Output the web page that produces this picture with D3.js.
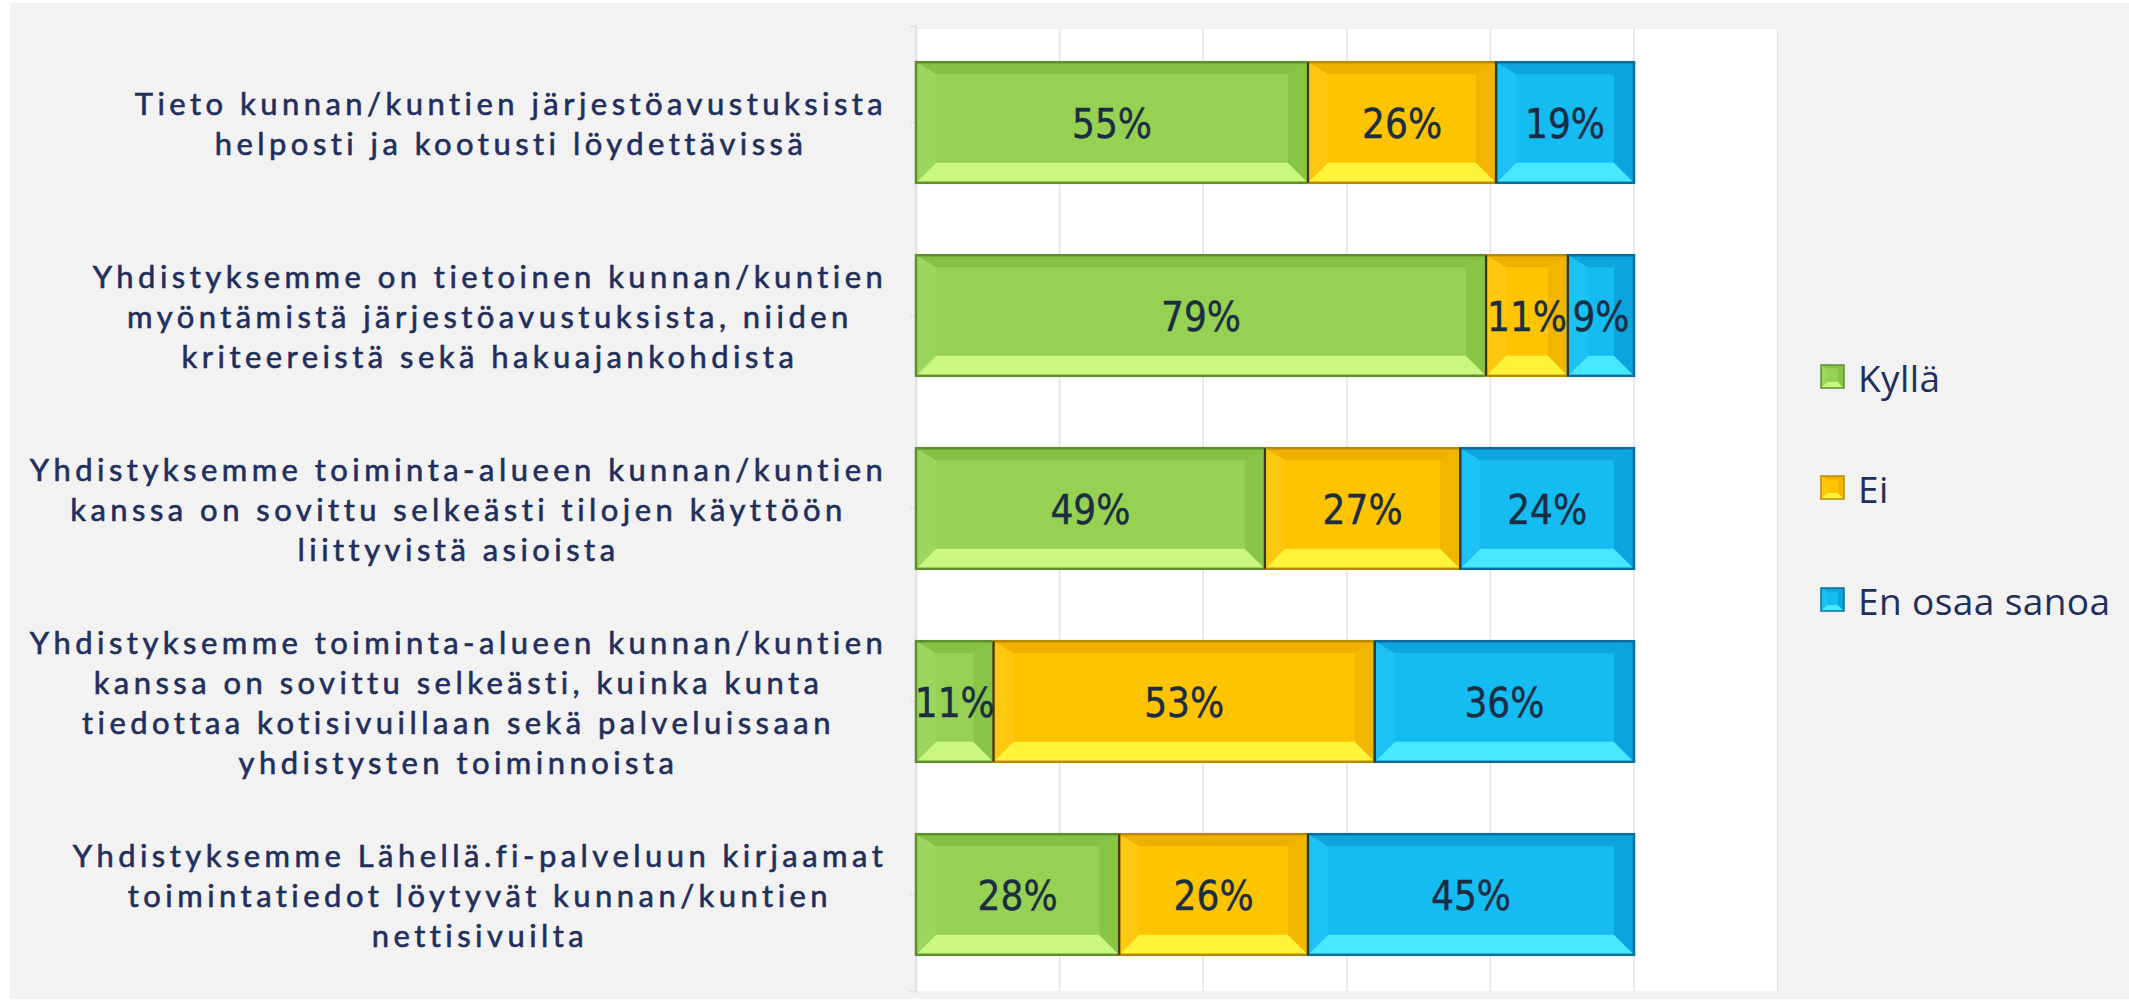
<!DOCTYPE html>
<html><head><meta charset="utf-8">
<script src="https://cdn.jsdelivr.net/npm/d3@7"></script>
<style>html,body{margin:0;padding:0;background:#fff;}svg{display:block;}</style>
</head><body>
<svg id="chart" width="2129" height="1004"></svg>
<script>
// ---- data ----
const categories = [
  ["Tieto kunnan/kuntien järjestöavustuksista", "helposti ja kootusti löydettävissä"],
  ["Yhdistyksemme on tietoinen kunnan/kuntien", "myöntämistä järjestöavustuksista, niiden", "kriteereistä sekä hakuajankohdista"],
  ["Yhdistyksemme toiminta-alueen kunnan/kuntien", "kanssa on sovittu selkeästi tilojen käyttöön", "liittyvistä asioista"],
  ["Yhdistyksemme toiminta-alueen kunnan/kuntien", "kanssa on sovittu selkeästi, kuinka kunta", "tiedottaa kotisivuillaan sekä palveluissaan", "yhdistysten toiminnoista"],
  ["Yhdistyksemme Lähellä.fi-palveluun kirjaamat", "toimintatiedot löytyvät kunnan/kuntien", "nettisivuilta"]
];
const seriesNames = ["Kyllä", "Ei", "En osaa sanoa"];
const kylla = [54.6, 79.4, 48.6, 10.8, 28.3];
const ei    = [26.2, 11.4, 27.2, 53.1, 26.3];
const eos   = [19.2,  9.2, 24.2, 36.1, 45.4];
const gridTicks = [0, 20, 40, 60, 80, 100, 120];

// ---- styles ----
const colors = {
  "Kyllä":        {base:"#97d154", top:"#86c145", bottom:"#c9f77f", left:"#9dd65c", right:"#88c446", stroke:"#5e8f2c"},
  "Ei":           {base:"#ffc400", top:"#f0b000", bottom:"#fff23a", left:"#ffc810", right:"#f2b600", stroke:"#b88a00"},
  "En osaa sanoa":{base:"#14bcf2", top:"#0ea4de", bottom:"#45e8ff", left:"#1cc2f4", right:"#0ca4de", stroke:"#0b6d98"}
};
const textColor = "#1f2f5c";

const svg = d3.select("#chart");
const W = 2129, H = 1004;

// background
svg.append("rect").attr("x", 0).attr("y", 0).attr("width", W).attr("height", H).attr("fill", "#ffffff");
svg.append("rect").attr("x", 10).attr("y", 3).attr("width", W - 10).attr("height", H - 8).attr("fill", "#f2f2f2");

const plot = {left: 916, right: 1777.6, top: 26, bottom: 991};
const x = d3.scaleLinear().domain([0, 120]).range([plot.left, plot.right]);
const y = d3.scaleBand().domain(d3.range(categories.length)).range([plot.top, plot.bottom]).paddingInner(0.375).paddingOuter(0.1875);

// plot area
svg.append("rect").attr("x", plot.left).attr("y", plot.top + 3).attr("width", plot.right - plot.left).attr("height", plot.bottom - plot.top - 3).attr("fill", "#ffffff");

// gridlines
svg.append("g").selectAll("line").data(gridTicks).join("line")
  .attr("x1", d => x(d)).attr("x2", d => x(d))
  .attr("y1", plot.top + 3).attr("y2", plot.bottom)
  .attr("stroke", "#e3e3e3").attr("stroke-width", 1.5);

// category axis
const yAxis = d3.axisLeft(y).tickSize(6).tickFormat("");
const ga = svg.append("g").attr("transform", `translate(${plot.left},0)`).call(yAxis);
ga.selectAll("path,line").attr("stroke", "#e0e0e0").attr("stroke-width", 1.5);

// stacked data
const rows = categories.map((c, i) => ({i, "Kyllä": kylla[i], "Ei": ei[i], "En osaa sanoa": eos[i]}));
const stacked = d3.stack().keys(seriesNames)(rows);

function bevel(g, x0, y0, w, h, c, b, sw) {
  const bx = Math.min(b, w / 2), by = Math.min(b, h / 2);
  const x1 = x0 + w, y1 = y0 + h;
  const bt = by * 0.6;
  g.append("rect").attr("x", x0).attr("y", y0).attr("width", w).attr("height", h).attr("fill", c.base);
  const poly = (pts, fill) => g.append("polygon").attr("points", pts.map(p => p.join(",")).join(" ")).attr("fill", fill);
  poly([[x0, y0], [x1, y0], [x1 - bx, y0 + bt], [x0 + bx, y0 + bt]], c.top);
  poly([[x0, y1], [x1, y1], [x1 - bx, y1 - by], [x0 + bx, y1 - by]], c.bottom);
  poly([[x0, y0], [x0 + bx, y0 + bt], [x0 + bx, y1 - by], [x0, y1]], c.left);
  poly([[x1, y0], [x1 - bx, y0 + bt], [x1 - bx, y1 - by], [x1, y1]], c.right);
  g.append("rect").attr("x", x0).attr("y", y0).attr("width", w).attr("height", h)
    .attr("fill", "none").attr("stroke", c.stroke).attr("stroke-width", sw);
}

const bars = svg.append("g");
stacked.forEach(s => {
  const c = colors[s.key];
  s.forEach(d => {
    const g = bars.append("g");
    bevel(g, x(d[0]), y(d.data.i), x(d[1]) - x(d[0]), y.bandwidth(), c, 20, 2.5);
  });
});
// segment separators (dark)
stacked.forEach(s => {
  s.forEach(d => {
    if (d[0] > 0) {
      bars.append("line").attr("x1", x(d[0])).attr("x2", x(d[0]))
        .attr("y1", y(d.data.i)).attr("y2", y(d.data.i) + y.bandwidth())
        .attr("stroke", "#2e3a28").attr("stroke-width", 2);
    }
  });
});

// data labels
const lbl = svg.append("g");
stacked.forEach(s => {
  s.forEach(d => {
    lbl.append("text")
      .attr("x", (x(d[0]) + x(d[1])) / 2)
      .attr("y", y(d.data.i) + y.bandwidth() / 2 + 1)
      .attr("text-anchor", "middle").attr("dominant-baseline", "central")
      .attr("font-family", "'DejaVu Sans Condensed','DejaVu Sans',sans-serif")
      .attr("font-stretch", "condensed")
      .attr("font-size", 40).attr("fill", "#1b2d42")
      .attr("stroke", "#1b2d42").attr("stroke-width", 0.4)
      .text(Math.round(d.data[s.key]) + "%");
  });
});

// category labels: block right-aligned at 885, lines centred in block
const labelRight = 885, labelLeft = 27, lineH = 40;
const cl = svg.append("g");
const labelTexts = [];
categories.forEach((lines, i) => {
  const g = cl.append("g");
  const cy = y(i) + y.bandwidth() / 2;
  const ts = lines.map((t, k) => g.append("text")
    .attr("y", cy + (k - (lines.length - 1) / 2) * lineH)
    .attr("dominant-baseline", "central").attr("text-anchor", "middle")
    .attr("font-family", "Lato, 'Open Sans', sans-serif")
    .attr("font-size", 31)
    .attr("fill", textColor).attr("stroke", textColor).attr("stroke-width", 0.6)
    .text(t));
  labelTexts.push(ts);
});
// letter spacing so the widest line fills the label column
let widest = null, wmax = 0;
labelTexts.flat().forEach(t => { const w = t.node().getComputedTextLength(); if (w > wmax) { wmax = w; widest = t; } });
const ls = ((labelRight - labelLeft) - wmax) / widest.text().length;
labelTexts.flat().forEach(t => t.attr("letter-spacing", ls + "px"));
labelTexts.forEach(ts => {
  const bw = d3.max(ts, t => t.node().getComputedTextLength());
  ts.forEach(t => t.attr("x", labelRight - bw / 2 + ls / 2));
});

// legend
const legY = [377, 488, 600];
const lg = svg.append("g");
seriesNames.forEach((n, k) => {
  const g = lg.append("g");
  bevel(g, 1821, legY[k] - 12, 23, 23, colors[n], 6, 1.5);
  g.append("text").attr("x", 1858).attr("y", legY[k]).attr("dominant-baseline", "central")
    .attr("font-family", "'Open Sans', 'Noto Sans', sans-serif").attr("font-size", 37)
    .attr("letter-spacing", "0.4px")
    .attr("fill", textColor).text(n);
});
</script>
</body></html>
